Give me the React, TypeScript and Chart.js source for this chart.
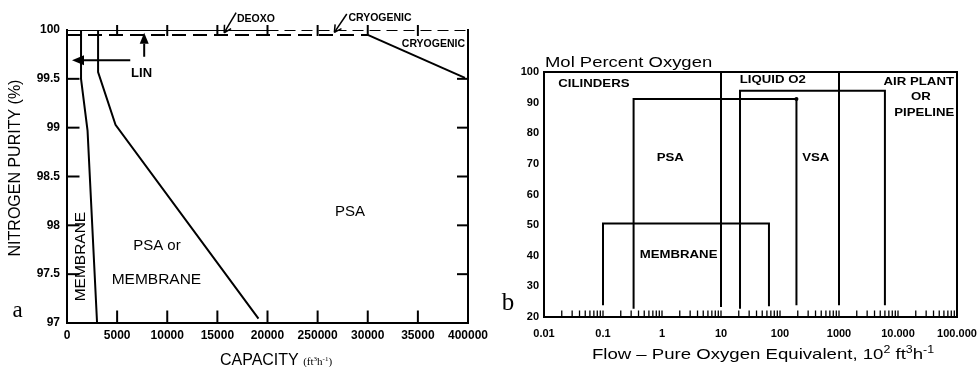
import React, { useEffect, useRef } from "react";
import { Chart, registerables } from "chart.js";
Chart.register(...registerables);

const SANS = "'Liberation Sans', Arial, Helvetica, sans-serif";
const SERIF = "'Liberation Serif', 'Times New Roman', serif";

// ---------------- Panel a: nitrogen purity vs capacity ----------------
const capacityTicks = [0, 5000, 10000, 15000, 20000, 25000, 30000, 35000, 40000];
const capacityTickLabels = ["0", "5000", "10000", "15000", "20000", "250000", "30000", "35000", "400000"];
const purityTicks = [97, 97.5, 98, 98.5, 99, 99.5, 100];
const purityTickLabels = ["97", "97.5", "98", "98.5", "99", "99.5", "100"];

const membraneLimitCapacity = [1400, 1400, 2050, 3000];
const membraneLimitPurity = [100, 99.5, 98.97, 97];
const psaLimitCapacity = [3100, 3100, 4840, 19100];
const psaLimitPurity = [100, 99.57, 99.03, 97.045];
const deoxoCapacity = [0, 20000];
const deoxoPurity = [100, 100];
const cryoUpperCapacity = [20000, 40000];
const cryoUpperPurity = [100, 100];
const cryoLowerCapacity = [0, 30000];
const cryoLowerPurity = [99.95, 99.95];
const cryoSlopeCapacity = [30000, 39700];
const cryoSlopePurity = [99.95, 99.51];

// ---------------- Panel b: mol percent oxygen vs flow ----------------
const flowTicks = [0.01, 0.1, 1, 10, 100, 1000, 10000, 100000];
const flowTickLabels = ["0.01", "0.1", "1", "10", "100", "1000", "10.000", "100.000"];
const oxygenTicks = [20, 30, 40, 50, 60, 70, 80, 90, 100];

const membraneFlow = [0.1, 0.1, 65, 65];
const membraneO2 = [23.8, 50.5, 50.5, 23.5];
const psaFlow = [0.33, 0.33, 190, 190];
const psaO2 = [22.7, 91.2, 91.2, 23.8];
const vsaFlow = [21, 21, 6000, 6000];
const vsaO2 = [22.7, 93.9, 93.9, 23.8];
const liquidLowFlow = [10, 10];
const liquidLowO2 = [100, 23.3];
const liquidHighFlow = [1000, 1000];
const liquidHighO2 = [100, 23.8];

// ---------------- annotation anchors (data coordinates) ----------------
const panelALabels = [
  { text: "LIN", x: 7440, y: 99.56, font: `bold 13px ${SANS}`, align: "center" },
  { text: "DEOXO", x: 16950, y: 100.115, font: `bold 10.5px ${SANS}`, align: "left" },
  { text: "CRYOGENIC", x: 28070, y: 100.12, font: `bold 10.5px ${SANS}`, align: "left" },
  { text: "CRYOGENIC", x: 39700, y: 99.86, font: `bold 10.5px ${SANS}`, align: "right" },
  { text: "PSA", x: 28240, y: 98.14, font: `15px ${SANS}`, align: "center" },
  { text: "PSA or", x: 8970, y: 97.79, font: `15px ${SANS}`, align: "center" },
  { text: "MEMBRANE", x: 8920, y: 97.445, font: `15.5px ${SANS}`, align: "center" },
];
const panelAVerticalLabel = { text: "MEMBRANE", x: 1395, y: 97.68 };
const panelBLabels = [
  { text: "CILINDERS", x: 0.0175, y: 96.2, align: "left" },
  { text: "LIQUID O2", x: 20.8, y: 97.5, align: "left" },
  { text: "AIR PLANT", x: 22500, y: 96.9, align: "center" },
  { text: "OR", x: 24500, y: 91.7, align: "center" },
  { text: "PIPELINE", x: 27900, y: 86.6, align: "center" },
  { text: "PSA", x: 1.38, y: 71.85, align: "center" },
  { text: "VSA", x: 403, y: 71.85, align: "center" },
  { text: "MEMBRANE", x: 1.91, y: 40.4, align: "center" },
];

const zip = (xs: number[], ys: number[]) => xs.map((x, i) => ({ x, y: ys[i] }));

function sText(ctx: any, text: string, x: number, y: number, font: string, align = "center", sx = 1) {
  ctx.save();
  ctx.font = font;
  ctx.textBaseline = "middle";
  ctx.textAlign = "left";
  const w = ctx.measureText(text).width * sx;
  const x0 = align === "left" ? x : align === "right" ? x - w : x - w / 2;
  ctx.translate(x0, y);
  ctx.scale(sx, 1);
  ctx.fillText(text, 0, 0);
  ctx.restore();
}

function richText(ctx: any, parts: any[], x: number, baseline: number, align: string, sx = 1) {
  ctx.save();
  ctx.textBaseline = "alphabetic";
  ctx.textAlign = "left";
  let total = 0;
  const widths = parts.map((p) => {
    ctx.font = p.font;
    const w = ctx.measureText(p.t).width * sx;
    total += w;
    return w;
  });
  let cx = align === "left" ? x : align === "right" ? x - total : x - total / 2;
  parts.forEach((p, i) => {
    ctx.save();
    ctx.font = p.font;
    ctx.translate(cx, baseline + (p.dy || 0));
    ctx.scale(sx, 1);
    ctx.fillText(p.t, 0, 0);
    ctx.restore();
    cx += widths[i];
  });
  ctx.restore();
}

function seg(ctx: any, x1: number, y1: number, x2: number, y2: number) {
  ctx.beginPath();
  ctx.moveTo(x1, y1);
  ctx.lineTo(x2, y2);
  ctx.stroke();
}

function filledArrow(ctx: any, x1: number, y1: number, x2: number, y2: number, len: number, half: number) {
  const a = Math.atan2(y2 - y1, x2 - x1);
  const bx = x2 - len * Math.cos(a), by = y2 - len * Math.sin(a);
  seg(ctx, x1, y1, bx, by);
  ctx.beginPath();
  ctx.moveTo(x2, y2);
  ctx.lineTo(bx + half * Math.sin(a), by - half * Math.cos(a));
  ctx.lineTo(bx - half * Math.sin(a), by + half * Math.cos(a));
  ctx.closePath();
  ctx.fill();
}

function openArrow(ctx: any, x1: number, y1: number, x2: number, y2: number, len: number, ang: number) {
  seg(ctx, x1, y1, x2, y2);
  const a = Math.atan2(y1 - y2, x1 - x2);
  seg(ctx, x2, y2, x2 + len * Math.cos(a + ang), y2 + len * Math.sin(a + ang));
  seg(ctx, x2, y2, x2 + len * Math.cos(a - ang), y2 + len * Math.sin(a - ang));
}

const panelAPlugin = {
  id: "panelADecor",
  afterDraw(chart: any) {
    const { ctx, chartArea: ca, scales } = chart;
    const X = (v: number) => scales.x.getPixelForValue(v);
    const Y = (v: number) => scales.y.getPixelForValue(v);
    ctx.save();
    ctx.strokeStyle = "#000";
    ctx.fillStyle = "#000";
    ctx.lineWidth = 2;
    // frame (left, bottom, right)
    ctx.beginPath();
    ctx.moveTo(ca.left, ca.top - 1);
    ctx.lineTo(ca.left, ca.bottom);
    ctx.lineTo(ca.right, ca.bottom);
    ctx.lineTo(ca.right, ca.top - 1);
    ctx.stroke();
    // tick marks
    capacityTicks.slice(1, -1).forEach((v) => {
      seg(ctx, X(v), ca.bottom, X(v), ca.bottom - 12.5);
      seg(ctx, X(v), ca.top - 5, X(v), ca.top + 6);
    });
    purityTicks.slice(1, -1).forEach((v) => {
      seg(ctx, ca.left, Y(v), ca.left + 12.5, Y(v));
      seg(ctx, ca.right - 11, Y(v), ca.right, Y(v));
    });
    // LIN arrows
    filledArrow(ctx, X(6310), Y(99.69), X(500), Y(99.69), 12, 5);
    filledArrow(ctx, X(7700), Y(99.726), X(7700), Y(99.972), 11, 4.5);
    // DEOXO / CRYOGENIC pointers
    ctx.lineWidth = 1.5;
    openArrow(ctx, X(16870), Y(100.177), X(15680), Y(99.972), 8, 0.5);
    openArrow(ctx, X(27910), Y(100.164), X(26670), Y(99.976), 8, 0.5);
    // labels
    panelALabels.forEach((l) => sText(ctx, l.text, X(l.x), Y(l.y), l.font, l.align));
    ctx.save();
    ctx.translate(X(panelAVerticalLabel.x), Y(panelAVerticalLabel.y));
    ctx.rotate(-Math.PI / 2);
    sText(ctx, panelAVerticalLabel.text, 0, 0, `15.5px ${SANS}`, "center");
    ctx.restore();
    // axis titles
    ctx.save();
    ctx.translate(16, 168);
    ctx.rotate(-Math.PI / 2);
    sText(ctx, "NITROGEN PURITY (%)", 0, 0, `16px ${SANS}`, "center");
    ctx.restore();
    richText(
      ctx,
      [
        { t: "CAPACITY ", font: `16px ${SANS}` },
        { t: "(ft", font: `11px ${SERIF}` },
        { t: "3", font: `7px ${SERIF}`, dy: -4 },
        { t: "h", font: `11px ${SERIF}` },
        { t: "-1", font: `7px ${SERIF}`, dy: -4 },
        { t: ")", font: `11px ${SERIF}` },
      ],
      276,
      365,
      "center"
    );
    sText(ctx, "a", 17.5, 311, `23px ${SERIF}`, "center");
    ctx.restore();
  },
};

const SX = 1.2;
const panelBPlugin = {
  id: "panelBDecor",
  afterDraw(chart: any) {
    const { ctx, chartArea: ca, scales } = chart;
    const X = (v: number) => scales.x.getPixelForValue(v);
    const Y = (v: number) => scales.y.getPixelForValue(v);
    ctx.save();
    ctx.strokeStyle = "#000";
    ctx.fillStyle = "#000";
    ctx.lineWidth = 2;
    ctx.strokeRect(ca.left, ca.top, ca.right - ca.left, ca.bottom - ca.top);
    // minor ticks on the log axis
    ctx.lineWidth = 1.3;
    for (let i = 0; i < flowTicks.length - 1; i++) {
      for (let m = 2; m <= 10; m++) {
        const px = X(flowTicks[i] * m);
        seg(ctx, px, ca.bottom, px, ca.bottom - 6.5);
      }
    }
    panelBLabels.forEach((l) => sText(ctx, l.text, X(l.x), Y(l.y), `bold 11px ${SANS}`, l.align, SX));
    // title and axis title
    richText(ctx, [{ t: "Mol Percent Oxygen", font: `15px ${SANS}` }], 55, 66.5, "left", 1.23);
    richText(
      ctx,
      [
        { t: "Flow \u2013 Pure Oxygen Equivalent, 10", font: `15px ${SANS}` },
        { t: "2", font: `10px ${SANS}`, dy: -6 },
        { t: " ft", font: `15px ${SANS}` },
        { t: "3", font: `10px ${SANS}`, dy: -6 },
        { t: "h", font: `15px ${SANS}` },
        { t: "-1", font: `10px ${SANS}`, dy: -6 },
      ],
      273,
      358.5,
      "center",
      1.24
    );
    sText(ctx, "b", 18, 303, `25px ${SERIF}`, "center");
    ctx.restore();
  },
};

const lineDs = (data: any[], extra: any = {}) => ({
  data,
  showLine: true,
  borderColor: "#000",
  backgroundColor: "#000",
  borderWidth: 2,
  pointRadius: 0,
  fill: false,
  tension: 0,
  ...extra,
});

const tickFont = (size: number) => ({ family: SANS, weight: "bold" as const, size });

const fixH = (h: number) => (s: any) => {
  s.height = h;
  s.paddingLeft = 0;
  s.paddingRight = 0;
};
const fixW = (w: number) => (s: any) => {
  s.width = w;
  s.paddingTop = 0;
  s.paddingBottom = 0;
};

export default function App() {
  const refA = useRef<HTMLCanvasElement>(null);
  const refB = useRef<HTMLCanvasElement>(null);

  useEffect(() => {
    const chartA = new Chart(refA.current!, {
      type: "scatter",
      data: {
        datasets: [
          lineDs(zip(deoxoCapacity, deoxoPurity)),
          lineDs(zip(cryoUpperCapacity, cryoUpperPurity), { borderDash: [11, 6] }),
          lineDs(zip(cryoLowerCapacity, cryoLowerPurity), { borderDash: [14, 7] }),
          lineDs(zip(cryoSlopeCapacity, cryoSlopePurity)),
          lineDs(zip(membraneLimitCapacity, membraneLimitPurity)),
          lineDs(zip(psaLimitCapacity, psaLimitPurity)),
        ],
      },
      options: {
        animation: false,
        responsive: false,
        events: [],
        layout: { padding: { left: 0, right: 22, top: 30, bottom: 0 } },
        plugins: { legend: { display: false }, tooltip: { enabled: false } },
        scales: {
          x: {
            type: "linear",
            min: 0,
            max: 40000,
            afterBuildTicks: (s: any) => {
              s.ticks = capacityTicks.map((v) => ({ value: v }));
            },
            afterFit: fixH(44),
            ticks: {
              autoSkip: false,
              maxRotation: 0,
              padding: 5,
              color: "#000",
              font: tickFont(12),
              callback: (_v: any, i: number) => capacityTickLabels[i],
            },
            grid: { display: false, drawTicks: false },
            border: { display: false },
          },
          y: {
            type: "linear",
            min: 97,
            max: 100,
            afterBuildTicks: (s: any) => {
              s.ticks = purityTicks.map((v) => ({ value: v }));
            },
            afterFit: fixW(67),
            ticks: {
              padding: 7,
              color: "#000",
              font: tickFont(12),
              callback: (_v: any, i: number) => purityTickLabels[i],
            },
            grid: { display: false, drawTicks: false },
            border: { display: false },
          },
        },
      } as any,
      plugins: [panelAPlugin],
    });

    const chartB = new Chart(refB.current!, {
      type: "scatter",
      data: {
        datasets: [
          lineDs(zip(liquidLowFlow, liquidLowO2)),
          lineDs(zip(liquidHighFlow, liquidHighO2)),
          lineDs(zip(membraneFlow, membraneO2)),
          lineDs(zip(psaFlow, psaO2), { pointRadius: [0, 0, 2, 0], pointBorderWidth: 0 }),
          lineDs(zip(vsaFlow, vsaO2)),
        ],
      },
      options: {
        animation: false,
        responsive: false,
        events: [],
        layout: { padding: { left: 0, right: 20, top: 72, bottom: 0 } },
        plugins: { legend: { display: false }, tooltip: { enabled: false } },
        scales: {
          x: {
            type: "logarithmic",
            min: 0.01,
            max: 100000,
            afterBuildTicks: (s: any) => {
              s.ticks = flowTicks.map((v) => ({ value: v }));
            },
            afterFit: fixH(50),
            ticks: {
              autoSkip: false,
              maxRotation: 0,
              padding: 10,
              color: "#000",
              font: tickFont(11),
              callback: (_v: any, i: number) => flowTickLabels[i],
            },
            grid: { display: false, drawTicks: false },
            border: { display: false },
          },
          y: {
            type: "linear",
            min: 20,
            max: 100,
            afterBuildTicks: (s: any) => {
              s.ticks = oxygenTicks.map((v) => ({ value: v }));
            },
            afterFit: fixW(54),
            ticks: {
              padding: 5,
              color: "#000",
              font: tickFont(11),
              callback: (v: any) => String(v),
            },
            grid: { display: false, drawTicks: false },
            border: { display: false },
          },
        },
      } as any,
      plugins: [panelBPlugin],
    });

    return () => {
      chartA.destroy();
      chartB.destroy();
    };
  }, []);

  return (
    <div style={{ position: "fixed", left: 0, top: 0, width: 977, height: 367, background: "#fff", overflow: "hidden" }}>
      <canvas ref={refA} width={490} height={367} style={{ position: "absolute", left: 0, top: 0 }} />
      <canvas ref={refB} width={487} height={367} style={{ position: "absolute", left: 490, top: 0 }} />
    </div>
  );
}
